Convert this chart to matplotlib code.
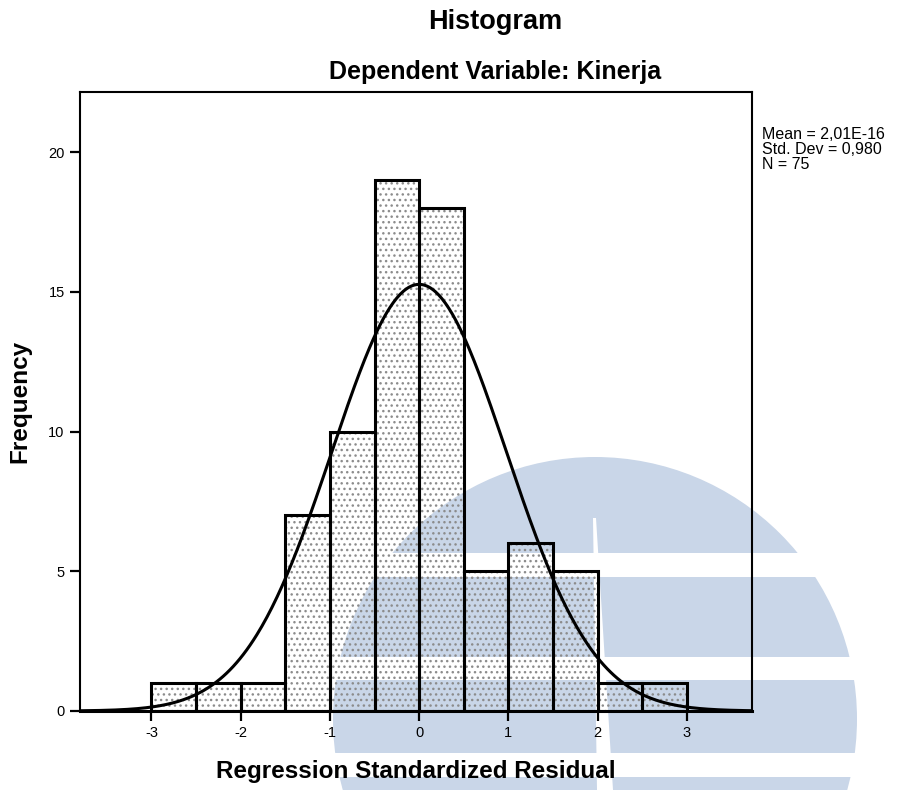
import numpy as np
import matplotlib
matplotlib.use("Agg")
import matplotlib.pyplot as plt
from matplotlib.patches import Circle, Rectangle, Polygon

plt.rcParams["font.family"] = ["Liberation Sans", "DejaVu Sans"]
plt.rcParams["hatch.linewidth"] = 1.0

# histogram data (bin width 0.5)
bin_left = [-3.0, -2.5, -2.0, -1.5, -1.0, -0.5, 0.0, 0.5, 1.0, 1.5, 2.0, 2.5]
counts = [1, 1, 1, 7, 10, 19, 18, 5, 6, 5, 1, 1]
bin_width = 0.5

mean = 2.01e-16
std_dev = 0.980
n_obs = 75

x_ticks = [-3, -2, -1, 0, 1, 2, 3]
y_ticks = [0, 5, 10, 15, 20]

W, H = 902, 790
fig = plt.figure(figsize=(W / 100, H / 100), dpi=100)

# scanned watermark in the background (pixel coords of the page)
wm = "#c9d6e8"
bg = fig.add_axes([0, 0, 1, 1], zorder=-5)
bg.set_xlim(0, W)
bg.set_ylim(H, 0)
bg.axis("off")
bg.add_patch(Circle((595, 719), 262, color=wm, lw=0))
for y0, y1 in [(553, 577), (657, 680), (753, 777)]:
    bg.add_patch(Rectangle((320, y0), 560, y1 - y0, color="white", lw=0))
bg.add_patch(Polygon([(593, 518), (596, 518), (613, 790), (597, 790)],
                     closed=True, color="white", lw=0))

ax = fig.add_axes([80 / W, 1 - 711 / H, 672 / W, 619 / H])
ax.patch.set_alpha(0)

# stipple fill, then the bar outlines
ax.bar(bin_left, counts, width=bin_width, align="edge", fill=False,
       hatch="...", edgecolor="#8c8c8c", linewidth=0, zorder=2)
ax.bar(bin_left, counts, width=bin_width, align="edge", fill=False,
       edgecolor="black", linewidth=2.2, zorder=3)

# fitted normal curve
xs = np.linspace(-3.8, 3.73, 400)
ys = n_obs * bin_width / (std_dev * np.sqrt(2 * np.pi)) * np.exp(-0.5 * ((xs - mean) / std_dev) ** 2)
ax.plot(xs, ys, color="black", linewidth=2.2, zorder=4, solid_capstyle="round")

ax.set_xlim(-3.8, 3.73)
ax.set_ylim(0, 22.15)
ax.set_xticks(x_ticks)
ax.set_yticks(y_ticks)
ax.set_xticklabels([str(t) for t in x_ticks])
ax.set_yticklabels([str(t) for t in y_ticks])
ax.tick_params(direction="out", length=7, width=1.6, labelsize=10.5, pad=4)
for s in ax.spines.values():
    s.set_linewidth(1.5)
ax.spines["bottom"].set_linewidth(2.2)

ax.set_xlabel("Regression Standardized Residual", fontsize=17.5, fontweight="bold", labelpad=14)
ax.set_ylabel("Frequency", fontsize=17.5, fontweight="bold", labelpad=12)

fig.text(495 / W, 1 - 22 / H, "Histogram", ha="center", va="center",
         fontsize=19.5, fontweight="bold")
fig.text(495 / W, 1 - 72 / H, "Dependent Variable: Kinerja", ha="center", va="center",
         fontsize=18, fontweight="bold")

fig.text(762 / W, 1 - 127 / H,
         "Mean = 2,01E-16\nStd. Dev = 0,980\nN = 75",
         ha="left", va="top", fontsize=11.5, linespacing=1.0)

fig.savefig("out.png", dpi=100)
